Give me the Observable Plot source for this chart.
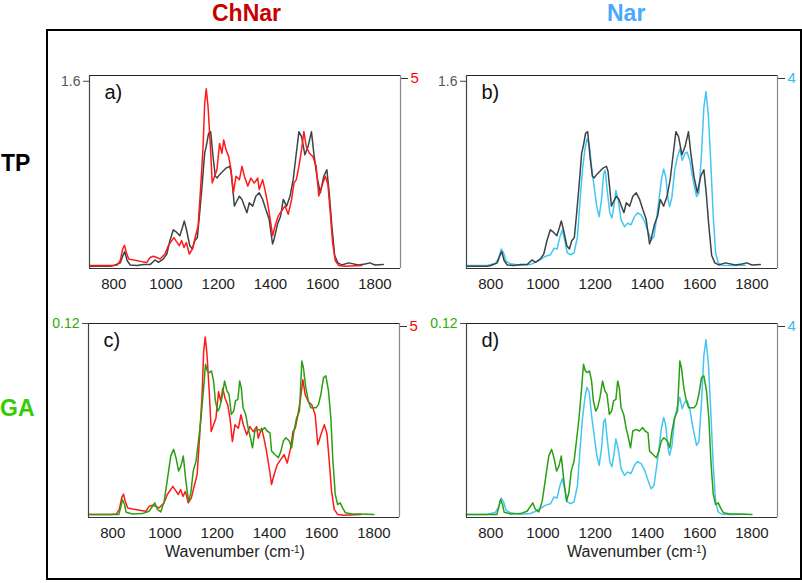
<!DOCTYPE html>
<html><head><meta charset="utf-8">
<script src="https://cdn.jsdelivr.net/npm/d3@7"></script>
<script src="https://cdn.jsdelivr.net/npm/@observablehq/plot@0.6"></script>
<style>
body{margin:0;background:#fff;font-family:"Liberation Sans",Arial,sans-serif;}
#root{position:relative;width:802px;height:583px;overflow:hidden;background:#fff;}
.abs{position:absolute;white-space:nowrap;}
.big{font-weight:bold;font-size:23px;line-height:26px;}
.xl{font-size:16px;line-height:18px;color:#222;}
.xl sup{font-size:10px;vertical-align:top;position:relative;top:-2px;}
</style></head><body><div id="root"></div>
<script>
// TP (gray) spectrum: wavenumber (cm-1) and absorbance (left axis, top tick 1.6)
const tpWn=[711,787,800,825,835,842,851,863,889,914,939,958,971,990,1003,1015,1028,1041,1053,1063,1070,1078,1091,1101,1110,1120,1129,1139,1148,1154,1163,1171,1180,1189,1196,1205,1218,1230,1243,1249,1256,1262,1268,1281,1291,1300,1310,1319,1332,1344,1357,1370,1382,1395,1408,1414,1427,1439,1449,1462,1475,1487,1496,1509,1519,1532,1544,1557,1566,1578,1591,1604,1616,1625,1635,1646,1658,1673,1699,1737,1762,1781,1800,1832];
const tpVal=[0,0,0.006,0.029,0.092,0.126,0.049,0.011,0.006,0.014,0.014,0.054,0.034,0.063,0.106,0.220,0.315,0.292,0.263,0.335,0.392,0.320,0.177,0.149,0.220,0.249,0.463,0.721,0.978,1.035,1.150,1.164,0.949,0.778,0.764,0.792,0.821,0.849,0.864,0.821,0.663,0.520,0.549,0.606,0.578,0.520,0.463,0.549,0.520,0.606,0.635,0.578,0.492,0.406,0.192,0.234,0.363,0.435,0.578,0.520,0.606,0.749,0.921,1.164,1.121,0.964,1.035,1.164,0.978,0.778,0.635,0.778,0.835,0.635,0.349,0.092,0.029,0.011,0.029,0.011,0.020,0.029,0.011,0.014];
// ChNar (red) spectrum, right axis top 5
const chWn=[711,794,813,825,834,841,848,857,876,908,927,939,952,965,977,996,1009,1022,1030,1041,1051,1060,1069,1078,1089,1101,1110,1123,1133,1142,1148,1154,1161,1170,1177,1186,1195,1205,1214,1221,1230,1240,1249,1258,1268,1281,1291,1300,1313,1325,1338,1351,1357,1370,1380,1389,1401,1408,1418,1430,1443,1456,1468,1481,1490,1499,1509,1519,1528,1537,1549,1562,1575,1585,1597,1610,1620,1629,1638,1648,1661,1686,1750];
const chVal=[0.02,0.02,0.03,0.15,0.45,0.55,0.36,0.19,0.16,0.12,0.10,0.23,0.26,0.23,0.19,0.32,0.54,0.67,0.75,0.64,0.54,0.67,0.49,0.62,0.32,0.45,0.71,1.06,2.10,3.14,4.26,4.65,4.18,3.14,2.18,2.36,2.53,3.22,2.96,3.31,3.05,2.88,2.53,1.92,2.36,2.27,2.62,2.36,2.10,2.31,2.18,2.31,2.01,2.27,1.97,1.66,1.14,0.80,1.06,1.32,1.45,1.58,1.36,1.75,2.18,2.27,2.62,3.05,3.53,3.14,2.96,2.88,2.62,1.84,2.10,2.36,2.14,1.40,0.62,0.15,0.02,0.0,0.02];
// Nar (light blue) spectrum, right axis top 4
const narWn=[707,785,817,830,840,849,859,875,913,952,971,990,1010,1029,1042,1054,1065,1074,1083,1093,1106,1119,1132,1142,1151,1160,1168,1177,1186,1196,1206,1215,1224,1232,1238,1247,1256,1264,1273,1279,1288,1299,1312,1324,1337,1350,1363,1376,1389,1402,1414,1425,1434,1444,1453,1462,1470,1479,1485,1494,1504,1515,1524,1533,1543,1552,1562,1575,1588,1597,1607,1616,1624,1633,1642,1652,1661,1671,1684,1723,1774];
const narVal=[0.014,0.014,0.055,0.17,0.36,0.28,0.10,0.05,0.02,0.035,0.08,0.14,0.21,0.24,0.38,0.36,0.62,0.76,0.55,0.28,0.24,0.28,0.62,1.39,2.01,2.43,2.67,2.56,2.08,1.66,1.25,1.04,1.39,1.94,2.01,1.53,1.11,1.01,1.32,1.59,1.39,0.97,0.83,0.90,0.87,1.04,1.12,1.07,0.94,0.73,0.55,0.62,0.97,1.39,1.80,2.04,1.87,1.39,1.25,1.46,2.01,2.29,2.46,2.22,2.36,2.39,2.22,1.80,1.46,1.53,2.36,3.33,3.66,3.19,2.22,1.04,0.28,0.07,0.02,0.014,0.02];
// GA (green) spectrum, left axis top 0.12
const gaWn=[707,823,830,837,845,851,875,913,939,952,961,971,984,997,1010,1022,1033,1042,1052,1061,1070,1080,1090,1099,1108,1119,1128,1138,1147,1155,1162,1170,1178,1186,1193,1202,1209,1218,1228,1237,1245,1254,1263,1270,1279,1286,1292,1299,1309,1318,1327,1335,1344,1357,1369,1382,1391,1402,1408,1421,1434,1444,1453,1463,1476,1485,1494,1504,1515,1524,1530,1539,1549,1558,1569,1579,1588,1597,1607,1616,1626,1635,1643,1652,1661,1671,1680,1691,1716,1742,1800];
const gaVal=[0.0004,0.0004,0.0046,0.0098,0.0067,0.0019,0.0008,0.0010,0.0025,0.0056,0.0077,0.0036,0.0021,0.0088,0.0234,0.0370,0.0412,0.0360,0.0276,0.0307,0.0370,0.0213,0.0088,0.0140,0.0276,0.0339,0.0464,0.0610,0.0778,0.0945,0.0903,0.0893,0.0903,0.0840,0.0715,0.0652,0.0673,0.0736,0.0840,0.0778,0.0757,0.0631,0.0652,0.0715,0.0725,0.0840,0.0799,0.0673,0.0631,0.0548,0.0485,0.0422,0.0527,0.0537,0.0527,0.0548,0.0527,0.0516,0.0401,0.0380,0.0360,0.0401,0.0464,0.0485,0.0464,0.0422,0.0527,0.0610,0.0652,0.0966,0.0924,0.0799,0.0715,0.0673,0.0673,0.0673,0.0694,0.0757,0.0861,0.0872,0.0778,0.0610,0.0339,0.0130,0.0067,0.0077,0.0046,0.0015,0.0008,0.0008,0.0004];

const xTicks=[800,1000,1200,1400,1600,1800];
const columnTitles=["ChNar","Nar"];
const rowTitles=["TP","GA"];
const panelLabels=["a)","b)","c)","d)"];

const C={gray:"#3c4448",red:"#ff1a1a",blue:"#44c6f2",green:"#2a9f12"};
const S={
  TP:{wn:tpWn,val:tpVal,color:C.gray,top:1.65,tick:1.6,tickLabel:"1.6",tickColor:"#555"},
  GA:{wn:gaWn,val:gaVal,color:C.green,top:0.12,tick:0.12,tickLabel:"0.12",tickColor:"#33aa00"},
  ChNar:{wn:chWn,val:chVal,color:C.red,top:5,tickLabel:"5",tickColor:"#ff0000"},
  Nar:{wn:narWn,val:narVal,color:C.blue,top:4,tickLabel:"4",tickColor:"#33bbee"}
};
const root=document.getElementById("root");

function rows(s){return s.wn.map((w,i)=>({w,v:s.val[i]}));}

function panel(L,R,label,pos,rightOnTop){
  const k=L.top/R.top;
  const xDom=[707,1898];
  const yDom=[-L.top*0.012,L.top];
  const lineL=Plot.line(rows(L),{x:"w",y:"v",stroke:L.color,strokeWidth:1.5});
  const lineR=Plot.line(rows(R),{x:"w",y:d=>d.v*k,stroke:R.color,strokeWidth:1.5});
  const fw=311, fh=pos.fh;
  const ml=pos.ml, mt=20, mr=pos.mr, mb=30;
  const svg=Plot.plot({
    width:ml+fw+mr,height:mt+fh+mb,
    marginLeft:ml,marginRight:mr,marginTop:mt,marginBottom:mb,
    style:{background:"transparent",overflow:"visible",fontFamily:"Liberation Sans, Arial, sans-serif"},
    x:{domain:xDom,label:null},
    y:{domain:yDom,label:null},
    marks:[
      Plot.axisX(xTicks,{tickSize:0,tickPadding:10,fontSize:15,fill:"#222",label:null,tickFormat:d=>String(d)}),
      Plot.axisY([L.tick],{anchor:"left",tickSize:6,tickPadding:3,fontSize:14,fill:L.tickColor,stroke:"#444",label:null,tickFormat:()=>L.tickLabel}),
      Plot.axisY([L.top],{anchor:"right",tickSize:7,tickPadding:3,fontSize:15,fill:R.tickColor,stroke:"#333",label:null,dy:3,tickFormat:()=>R.tickLabel}),
      ...(rightOnTop?[lineL,lineR]:[lineR,lineL]),
      Plot.ruleY([yDom[1]],{stroke:"#222",strokeWidth:1.2}),
      Plot.ruleY([yDom[0]],{stroke:"#333",strokeWidth:1.2}),
      Plot.ruleX([xDom[0]],{stroke:"#444",strokeWidth:1.2}),
      Plot.ruleX([xDom[1]],{stroke:"#888",strokeWidth:1.2}),
      Plot.text([label],{text:d=>d,frameAnchor:"top-left",dx:15,dy:9,textAnchor:"start",lineAnchor:"top",fontSize:20,fill:"#111"})
    ]
  });
  const div=document.createElement("div");
  div.className="abs";
  div.style.left=pos.left+"px";div.style.top=pos.top+"px";
  div.appendChild(svg);
  root.appendChild(div);
}

// outer frame
const fr=document.createElement("div");
fr.className="abs";
Object.assign(fr.style,{left:"46px",top:"29px",width:"752px",height:"547px",border:"2.5px solid #000"});
root.appendChild(fr);

panel(S.TP,S.ChNar,panelLabels[0],{left:30,top:55,ml:59,mr:30,fh:193},true);
panel(S.TP,S.Nar,panelLabels[1],{left:410,top:55,ml:56,mr:25,fh:193},false);
panel(S.GA,S.ChNar,panelLabels[2],{left:30,top:303,ml:58,mr:30,fh:194},false);
panel(S.GA,S.Nar,panelLabels[3],{left:410,top:303,ml:56,mr:25,fh:194},false);

function addText(html,cls,style){
  const d=document.createElement("div");
  d.className="abs "+cls;d.innerHTML=html;Object.assign(d.style,style);root.appendChild(d);return d;
}
addText(columnTitles[0],"big",{left:"212px",top:"0px",color:"#c80000"});
addText(columnTitles[1],"big",{left:"607px",top:"0px",color:"#4aa8ff"});
addText(rowTitles[0],"big",{left:"1px",top:"150px",color:"#000"});
addText(rowTitles[1],"big",{left:"0px",top:"395px",color:"#33cc00"});
const w1=addText("Wavenumber (cm<sup>-1</sup>)","xl",{top:"543px"});
const w2=addText("Wavenumber (cm<sup>-1</sup>)","xl",{top:"543px"});
w1.style.left=(235-w1.offsetWidth/2)+"px";
w2.style.left=(637-w2.offsetWidth/2)+"px";
</script></body></html>
